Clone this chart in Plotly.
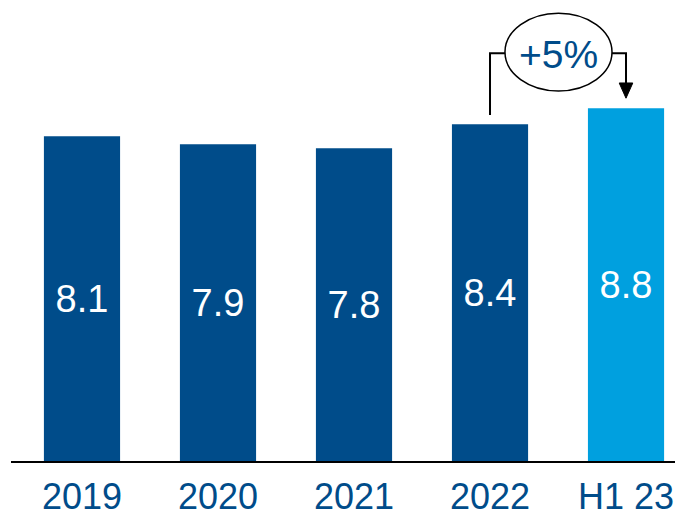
import plotly.graph_objects as go

categories = ["2019", "2020", "2021", "2022", "H1 23"]
values = [8.1, 7.9, 7.8, 8.4, 8.8]
bar_colors = ["#004c8a", "#004c8a", "#004c8a", "#004c8a", "#00a0df"]
growth_label = "+5%"

xs = list(range(len(categories)))
DARK = "#004c8a"

fig = go.Figure()
fig.add_trace(go.Bar(
    x=xs, y=values,
    marker=dict(color=bar_colors, line=dict(width=0)),
    text=[f"{v:.1f}" for v in values],
    textposition="inside", insidetextanchor="middle",
    textfont=dict(color="white", size=38, family="Liberation Sans, Arial, sans-serif"),
    width=0.56,
    hoverinfo="skip",
))

i0, i1 = 3, 4
y_low = values[i0] + 0.23
y_top = 10.17
y_tip = values[i1] + 0.25
ex0, ex1 = 3.11, 3.897
ey0, ey1 = 9.23, 11.17

shapes = [
    dict(type="path", xref="x", yref="y",
         path=f"M {i0},{y_low} L {i0},{y_top} L {ex0},{y_top}",
         line=dict(color="black", width=2)),
    dict(type="path", xref="x", yref="y",
         path=f"M {ex1},{y_top} L {i1},{y_top} L {i1},{y_tip + 0.3}",
         line=dict(color="black", width=2)),
    dict(type="path", xref="x", yref="y",
         path=f"M {i1-0.05},{y_tip+0.38} L {i1+0.05},{y_tip+0.38} L {i1},{y_tip} Z",
         fillcolor="black", line=dict(color="black", width=1)),
    dict(type="circle", xref="x", yref="y",
         x0=ex0, x1=ex1, y0=ey0, y1=ey1,
         line=dict(color="black", width=1.5), fillcolor="white"),
]

fig.update_layout(
    width=675, height=510,
    margin=dict(l=3, r=0, t=0, b=57, autoexpand=False),
    paper_bgcolor="white", plot_bgcolor="white",
    showlegend=False,
    shapes=shapes,
    annotations=[dict(x=(ex0 + ex1) / 2, y=(ey0 + ey1) / 2 - 0.05, xref="x", yref="y",
                      text=growth_label, showarrow=False,
                      font=dict(color=DARK, size=39, family="Liberation Sans, Arial, sans-serif"))],
    xaxis=dict(range=[-0.522, 4.419], tickvals=xs, ticktext=categories,
               automargin=False,
               showgrid=False, zeroline=False, showline=True,
               linecolor="black", linewidth=2,
               ticks="outside", ticklen=3, tickcolor="rgba(0,0,0,0)",
               tickfont=dict(color=DARK, size=36,
                             family="Liberation Sans, Arial, sans-serif")),
    yaxis=dict(range=[0, 11.3], visible=False, automargin=False),
)

fig.write_html("out.html")
